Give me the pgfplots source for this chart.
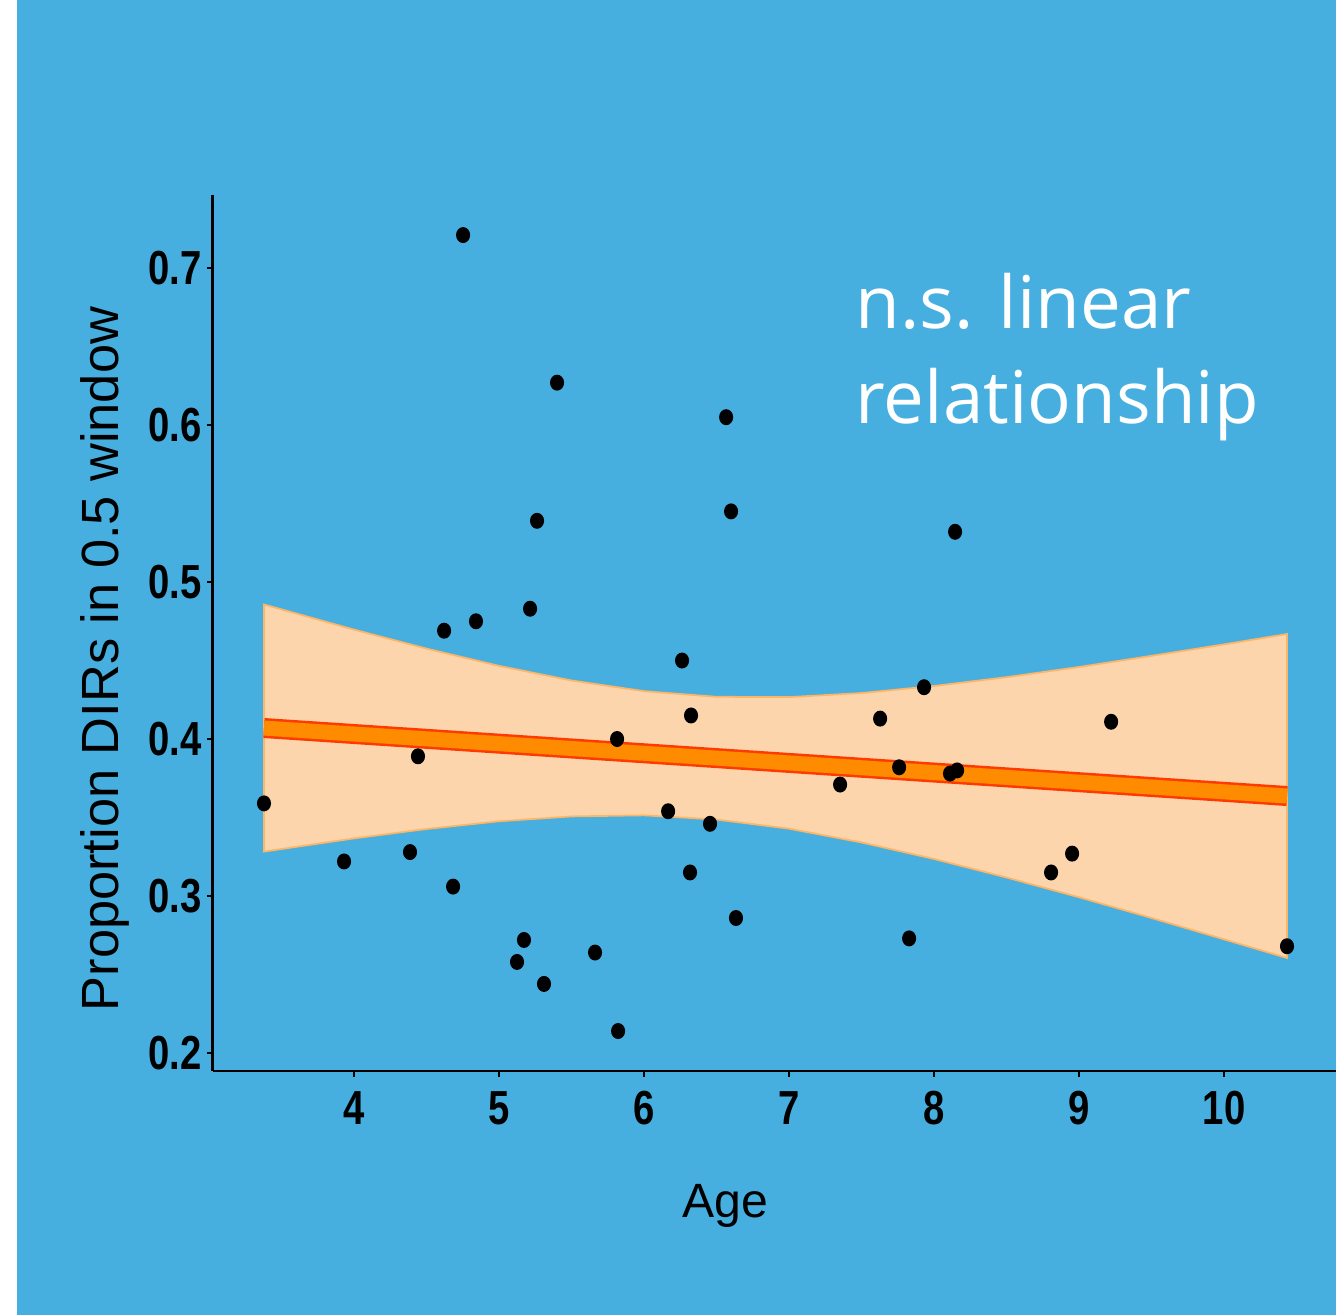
\documentclass[border=0pt]{standalone}
\usepackage{pgfplots}
\pgfplotsset{compat=1.18}
\usepackage{fontspec}
\setmainfont{Liberation Sans}
\newfontfamily\annfont{Open Sans}
\newfontfamily\tickfont[FakeStretch=0.8]{Liberation Sans}
\definecolor{bgblue}{HTML}{47AFDF}
\definecolor{bandfill}{HTML}{FCD5AC}
\definecolor{bandedge}{HTML}{FDB567}
\definecolor{lineorange}{HTML}{FF8C00}
\definecolor{linered}{HTML}{FF3A00}
\begin{document}
\begin{tikzpicture}
\useasboundingbox (0,0) rectangle (13.36,13.15);
\fill[white] (0,0) rectangle (0.17,13.15);
\fill[bgblue] (0.17,0) rectangle (13.36,13.15);
\begin{axis}[
  scale only axis,
  at={(2.128cm,2.441cm)}, anchor=south west,
  width=11.232cm, height=8.757cm,
  xmin=3.026, xmax=10.772,
  ymin=0.1886, ymax=0.7464,
  axis x line*=bottom, axis y line*=left,
  axis line style={black, line width=0.8pt},
  xtick={4,5,6,7,8,9,10},
  xticklabels={4,5,6,7,8,9,10},
  ytick={0.2,0.3,0.4,0.5,0.6,0.7},
  yticklabels={0.2,0.3,0.4,0.5,0.6,0.7},
  tick align=outside,
  major tick length=0.06cm,
  tick style={black, line width=0.6pt},
  ticklabel style={font=\tickfont\bfseries\fontsize{13.6}{14}\selectfont, text=black},
  yticklabel style={xshift=0.07cm},
  xticklabel style={yshift=-0.02cm},
  clip=false,
]
% confidence band (upper edge left to right, lower edge right to left)
\addplot[fill=bandfill, draw=bandedge, line width=0.5pt] coordinates {
(3.379,0.4857) (4,0.4697) (4.5,0.4576) (5,0.4466) (5.5,0.4373) (6,0.4305)
(6.5,0.4269) (7,0.4267) (7.5,0.4293) (8,0.4338) (8.5,0.4394) (9,0.4459)
(9.5,0.4530) (10,0.4603) (10.434,0.4669)
(10.434,0.2605) (10,0.2724) (9.5,0.2860) (9,0.2992) (8.5,0.3118) (8,0.3236)
(7.5,0.3341) (7,0.3429) (6.5,0.3487) (6,0.3514) (5.5,0.3507) (5,0.3476)
(4.5,0.3427) (4,0.3367) (3.379,0.3283)
} -- cycle;
% fitted line
\addplot[linered, line width=0.2cm] coordinates {(3.379,0.4070) (10.434,0.3637)};
\addplot[lineorange, line width=0.15cm] coordinates {(3.379,0.4070) (10.434,0.3637)};
% data points
\addplot[only marks, mark=*, mark size=1.8pt, mark options={fill=black, draw=black, yscale=1.15}] coordinates {
(3.379,0.359) (3.931,0.322) (4.386,0.328) (4.441,0.389) (4.621,0.469)
(4.683,0.306) (4.752,0.721) (4.841,0.475) (5.124,0.258) (5.172,0.272)
(5.214,0.483) (5.262,0.539) (5.310,0.244) (5.400,0.627) (5.662,0.264)
(5.814,0.400) (5.821,0.214) (6.166,0.354) (6.262,0.450) (6.324,0.415)
(6.317,0.315) (6.455,0.346) (6.566,0.605) (6.600,0.545) (6.634,0.286)
(7.352,0.371) (7.628,0.413) (7.759,0.382) (7.828,0.273) (7.931,0.433)
(8.110,0.378) (8.159,0.380) (8.145,0.532) (8.807,0.315) (8.952,0.327)
(9.221,0.411) (10.434,0.268)
};
\end{axis}
\node[rotate=90, anchor=base, inner sep=0pt, font=\fontsize{14.9}{16}\selectfont] at (1.18,6.56) {Proportion DIRs in 0.5 window};
\node[anchor=base, inner sep=0pt, font=\fontsize{13.7}{15}\selectfont] at (7.25,0.98) {Age};
\node[anchor=base west, inner sep=0pt, text=white, font=\annfont\fontsize{20.7}{27}\selectfont] at (8.55,9.87) {n.s. linear};
\node[anchor=base west, inner sep=0pt, text=white, font=\annfont\fontsize{20.7}{27}\selectfont] at (8.55,8.92) {relationship};
\end{tikzpicture}
\end{document}
